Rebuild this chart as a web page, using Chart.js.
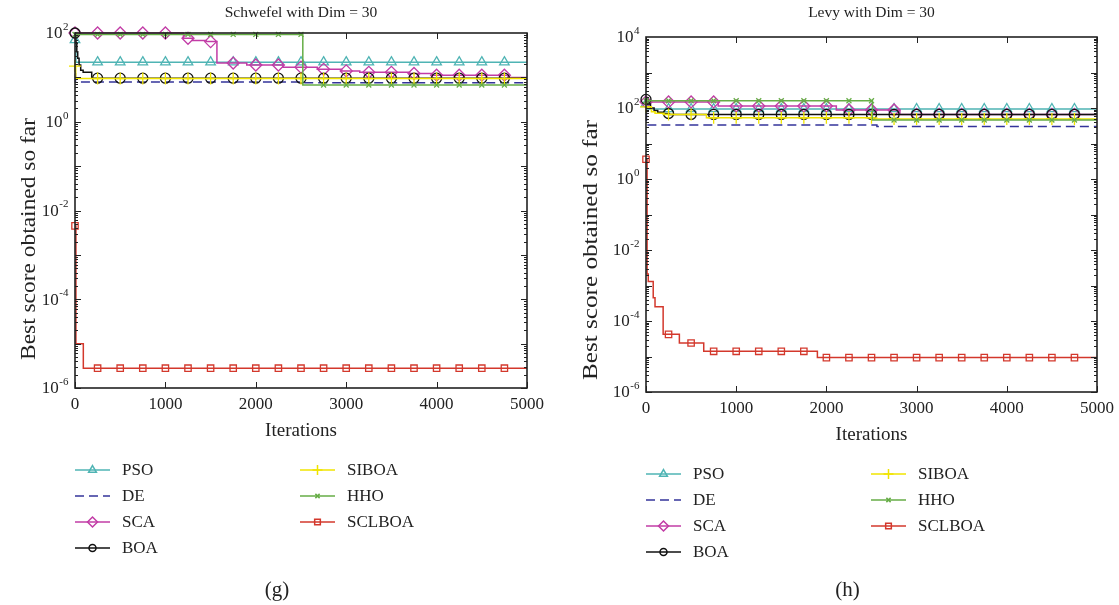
<!DOCTYPE html>
<html>
<head>
<meta charset="utf-8">
<script src="https://cdn.jsdelivr.net/npm/chart.js@4.4.1/dist/chart.umd.min.js"></script>
<style>
  body { margin: 0; background: #fff; }
  .panel { position: absolute; top: 0; }
</style>
</head>
<body>
<div class="panel" style="left:0"><canvas id="schwefelChart" width="560" height="605"></canvas></div>
<div class="panel" style="left:560px"><canvas id="levyChart" width="559" height="605"></canvas></div>
<script>
const algorithms = ['PSO', 'DE', 'SCA', 'BOA', 'SIBOA', 'HHO', 'SCLBOA'];
const iterationTicks = [0, 1000, 2000, 3000, 4000, 5000];
const schwefelExponents = [2, 0, -2, -4, -6];
const levyExponents = [4, 2, 0, -2, -4, -6];

// best score so far, as [iteration, value] at each change
const schwefelPSO = [[0, 70], [10, 22], [5000, 22]];
const schwefelDE = [[0, 12], [5, 7.9], [2520, 7.6], [5000, 7.6]];
const schwefelSCA = [[0, 100], [1200, 76], [1300, 68], [1450, 64], [1570, 21], [1900, 19], [2300, 17],
  [2680, 15.2], [2950, 14], [3150, 13], [3700, 12.2], [3950, 11.2], [4790, 10], [5000, 10]];
const schwefelBOA = [[0, 100], [10, 60], [20, 38], [30, 27], [45, 19], [63, 14.5], [90, 13], [185, 9.6], [5000, 9.6]];
const schwefelSIBOA = [[0, 18], [8, 9.4], [5000, 9.4]];
const schwefelHHO = [[0, 93], [2520, 6.7], [5000, 6.7]];
const schwefelSCLBOA = [[0, 4.5e-3], [10, 1e-5], [92, 2.8e-6], [5000, 2.8e-6]];

const levyPSO = [[0, 130], [15, 94], [5000, 94]];
const levyDE = [[0, 75], [5, 33], [2560, 30], [5000, 30]];
const levySCA = [[0, 148], [800, 114], [2110, 88], [2815, 66], [5000, 66]];
const levyBOA = [[0, 175], [20, 130], [50, 100], [90, 85], [130, 76], [190, 70], [260, 66], [5000, 66]];
const levySIBOA = [[0, 108], [60, 79], [100, 71], [200, 66], [670, 53], [2520, 49], [5000, 49]];
const levyHHO = [[0, 160], [2510, 46], [5000, 46]];
const levySCLBOA = [[0, 3.6], [12, 2.1e-3], [25, 1.3e-3], [80, 4.5e-4], [100, 2.5e-4], [190, 4.2e-5],
  [370, 2.4e-5], [640, 1.4e-5], [1900, 9.3e-6], [5000, 9.3e-6]];

const styles = [
  { color: '#4fb4b4', point: 'triangle', r: 5.5, lr: 4.5 },
  { color: '#34349a', point: false, r: 0, lr: 0, dash: [9, 5] },
  { color: '#c23ca6', point: 'rectRot', r: 6, lr: 5 },
  { color: '#111111', point: 'circle', r: 5, lr: 3.5 },
  { color: '#f0e400', point: 'cross', r: 6, lr: 5 },
  { color: '#66ad46', point: 'crossRot', r: 3.5, lr: 3 },
  { color: '#d3382c', point: 'rect', r: 4.5, lr: 4 }
];

const markerEvery = 250;

function stepPoints(changes) {
  const xs = new Set(changes.map(p => p[0]));
  for (let t = 0; t < 5000; t += markerEvery) xs.add(t);
  return [...xs].sort((a, b) => a - b).map(t => {
    let v = changes[0][1];
    for (const [ct, cv] of changes) if (ct <= t) v = cv;
    return { x: t, y: v };
  });
}

const serif = '"Liberation Serif", "DejaVu Serif", serif';

function drawPow(ctx, exp, xRight, yMid) {
  ctx.font = '17px ' + serif;
  const w10 = ctx.measureText('10').width;
  const es = exp < 0 ? '-' + Math.abs(exp) : String(exp);
  ctx.font = '11px ' + serif;
  const we = ctx.measureText(es).width;
  const x0 = xRight - w10 - we;
  ctx.textAlign = 'left';
  ctx.textBaseline = 'middle';
  ctx.font = '17px ' + serif;
  ctx.fillText('10', x0, yMid + 1);
  ctx.font = '11px ' + serif;
  ctx.fillText(es, x0 + w10 + 0.5, yMid - 6);
}

const frame = {
  id: 'frame',
  afterDraw(chart, args, opts) {
    const { ctx, chartArea: a, scales: { x, y } } = chart;
    ctx.save();
    ctx.strokeStyle = '#222';
    ctx.lineWidth = 1;
    ctx.setLineDash([]);
    ctx.beginPath();
    const lo = opts.exponents[opts.exponents.length - 1];
    const hi = opts.exponents[0];
    for (let e = lo; e < hi; e++) {
      for (let k = 1; k < 10; k++) {
        const py = Math.round(y.getPixelForValue(k * Math.pow(10, e))) + 0.5;
        const len = k === 1 ? 6 : 3;
        ctx.moveTo(a.left, py); ctx.lineTo(a.left + len, py);
        ctx.moveTo(a.right, py); ctx.lineTo(a.right - len, py);
      }
    }
    iterationTicks.forEach(t => {
      const px = Math.round(x.getPixelForValue(t)) + 0.5;
      ctx.moveTo(px, a.bottom); ctx.lineTo(px, a.bottom - 6);
      ctx.moveTo(px, a.top); ctx.lineTo(px, a.top + 6);
    });
    ctx.stroke();
    ctx.lineWidth = 1.6;
    ctx.strokeRect(a.left, a.top, a.right - a.left, a.bottom - a.top);

    ctx.fillStyle = '#222';
    // y tick labels
    opts.exponents.forEach(e => drawPow(ctx, e, a.left - 7, y.getPixelForValue(Math.pow(10, e))));
    // x tick labels
    ctx.font = '17px ' + serif;
    ctx.textAlign = 'center';
    ctx.textBaseline = 'middle';
    iterationTicks.forEach(t => ctx.fillText(String(t), x.getPixelForValue(t), a.bottom + 17));
    ctx.font = '19px ' + serif;
    ctx.fillText('Iterations', (a.left + a.right) / 2, a.bottom + 43);
    // title
    ctx.font = '15.5px ' + serif;
    ctx.fillText(opts.title, (a.left + a.right) / 2, 13);
    // y title, fitted to the reference length
    ctx.save();
    ctx.translate(opts.yTitleX, opts.yTitleY);
    ctx.rotate(-Math.PI / 2);
    ctx.font = '21px ' + serif;
    const yt = 'Best score obtained so far';
    ctx.scale(opts.yTitleLen / ctx.measureText(yt).width, 1);
    ctx.fillText(yt, 0, 0);
    ctx.restore();
    // legend
    chart.data.datasets.forEach((ds, i) => {
      const st = styles[i];
      const col = i < 4 ? 0 : 1;
      const row = i < 4 ? i : i - 4;
      const sx = a.left + col * 225;
      const sy = a.bottom + 82 + row * 26;
      ctx.strokeStyle = st.color;
      ctx.lineWidth = 1.5;
      ctx.setLineDash(st.dash || []);
      ctx.beginPath();
      ctx.moveTo(sx, sy); ctx.lineTo(sx + 35, sy);
      ctx.stroke();
      ctx.setLineDash([]);
      if (st.point) {
        ctx.fillStyle = 'rgba(0,0,0,0)';
        Chart.helpers.drawPoint(ctx, { pointStyle: st.point, radius: st.lr, rotation: 0, borderWidth: 1.2 }, sx + 17.5, sy);
      }
      ctx.fillStyle = '#222';
      ctx.font = '17px ' + serif;
      ctx.textAlign = 'left';
      ctx.textBaseline = 'middle';
      ctx.fillText(ds.label, sx + 47, sy + 1);
    });
    // caption
    ctx.font = '21px ' + serif;
    ctx.textAlign = 'center';
    ctx.fillText(opts.caption, (a.left + a.right) / 2 - 24, 590);
    ctx.restore();
  }
};

function makeChart(id, series, yMin, yMax, pad, opts) {
  const datasets = series.map((s, i) => ({
    label: algorithms[i],
    data: stepPoints(s),
    borderColor: styles[i].color,
    backgroundColor: 'rgba(0,0,0,0)',
    borderWidth: 1.5,
    borderDash: styles[i].dash || [],
    stepped: true,
    pointStyle: styles[i].point || 'circle',
    pointRadius: c => (styles[i].point && c.raw && c.raw.x % markerEvery === 0 && c.raw.x < 5000) ? styles[i].r : 0,
    pointBorderWidth: 1.3,
    pointBorderColor: styles[i].color,
    pointBackgroundColor: 'rgba(0,0,0,0)',
    order: series.length - i,
    clip: false
  }));
  return new Chart(document.getElementById(id).getContext('2d'), {
    type: 'line',
    data: { datasets },
    options: {
      responsive: false,
      animation: false,
      events: [],
      layout: { padding: pad },
      scales: {
        x: { type: 'linear', min: 0, max: 5000, display: false },
        y: { type: 'logarithmic', min: yMin, max: yMax, display: false }
      },
      plugins: {
        legend: { display: false },
        tooltip: { enabled: false },
        frame: opts
      }
    },
    plugins: [frame]
  });
}

makeChart('schwefelChart',
  [schwefelPSO, schwefelDE, schwefelSCA, schwefelBOA, schwefelSIBOA, schwefelHHO, schwefelSCLBOA],
  1e-6, 1e2, { left: 75, right: 33, top: 33, bottom: 217 },
  { exponents: schwefelExponents, title: 'Schwefel with Dim = 30', caption: '(g)',
    yTitleX: 29, yTitleY: 239, yTitleLen: 242 });

makeChart('levyChart',
  [levyPSO, levyDE, levySCA, levyBOA, levySIBOA, levyHHO, levySCLBOA],
  1e-6, 1e4, { left: 86, right: 22, top: 37, bottom: 213 },
  { exponents: levyExponents, title: 'Levy with Dim = 30', caption: '(h)',
    yTitleX: 31, yTitleY: 250, yTitleLen: 260 });
</script>
</body>
</html>
